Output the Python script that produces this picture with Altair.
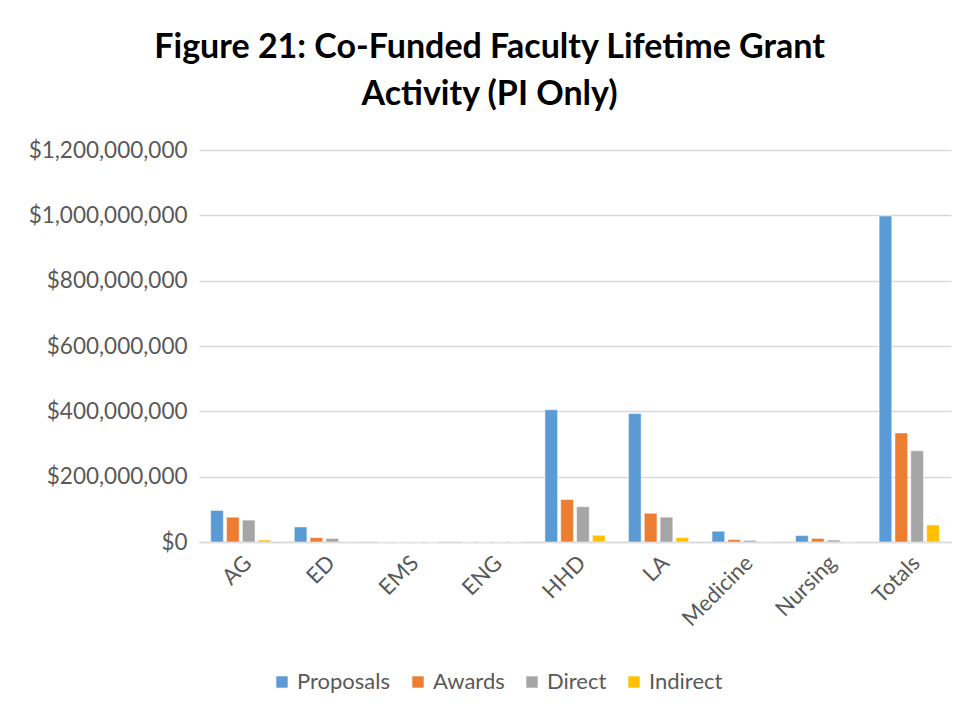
import altair as alt
import pandas as pd

categories = ["AG", "ED", "EMS", "ENG", "HHD", "LA", "Medicine", "Nursing", "Totals"]
series = ["Proposals", "Awards", "Direct", "Indirect"]
proposals = [96_600_000, 46_000_000, 0, 0, 405_000_000, 393_000_000, 33_000_000, 19_700_000, 998_000_000]
awards = [76_000_000, 13_500_000, 0, 0, 130_000_000, 88_000_000, 7_400_000, 11_000_000, 334_000_000]
direct = [67_000_000, 11_000_000, 0, 0, 108_000_000, 76_000_000, 5_000_000, 6_000_000, 279_000_000]
indirect = [6_000_000, 1_000_000, 0, 0, 20_600_000, 13_500_000, 1_000_000, 500_000, 52_000_000]
colors = ["#5B9BD5", "#ED7D31", "#A5A5A5", "#FFC000"]

rows = []
for name, vals in zip(series, [proposals, awards, direct, indirect]):
    for c, v in zip(categories, vals):
        rows.append({"Category": c, "Series": name, "Value": v})
df = pd.DataFrame(rows)

FONT = "Lato"
chart = alt.Chart(df).mark_bar(stroke="white", strokeWidth=0.5).encode(
    x=alt.X("Category:N", sort=categories, title=None,
            scale=alt.Scale(paddingInner=0.28, paddingOuter=0.14),
            axis=alt.Axis(labelAngle=-45, labelFontSize=22, labelColor="#595959",
                          labelFont=FONT, ticks=False, domainColor="#d9d9d9",
                          domainWidth=1.5, labelPadding=10, grid=False)),
    xOffset=alt.XOffset("Series:N", sort=series, scale=alt.Scale(paddingInner=0.2)),
    y=alt.Y("Value:Q", title=None,
            scale=alt.Scale(domain=[0, 1_200_000_000]),
            axis=alt.Axis(values=[0, 200_000_000, 400_000_000, 600_000_000, 800_000_000,
                                  1_000_000_000, 1_200_000_000],
                          format="$,.0f", labelFontSize=22.5, labelColor="#595959",
                          labelFont=FONT, ticks=False, domain=False,
                          gridColor="#d9d9d9", gridWidth=1.5, labelPadding=12)),
    color=alt.Color("Series:N", sort=series,
                    scale=alt.Scale(domain=series, range=colors),
                    legend=alt.Legend(orient="none", legendX=72, legendY=521,
                                      direction="horizontal", title=None,
                                      symbolType="square", symbolSize=130,
                                      symbolStrokeWidth=0,
                                      labelFontSize=22, labelColor="#595959",
                                      labelFont=FONT, columnPadding=16)),
).properties(
    width=752,
    height=392,
    background="white",
    padding={"left": 20, "top": 23, "right": 5, "bottom": 5},
    title=alt.TitleParams(
        text=["Figure 21: Co-Funded Faculty Lifetime Grant", "Activity (PI Only)"],
        fontSize=34, font=FONT, fontWeight="bold", color="#000000",
        anchor="middle", frame="bounds", lineHeight=47, offset=27,
    ),
).configure_view(stroke=None)

chart.save("out.html", embed_options={"renderer": "svg", "actions": False})
